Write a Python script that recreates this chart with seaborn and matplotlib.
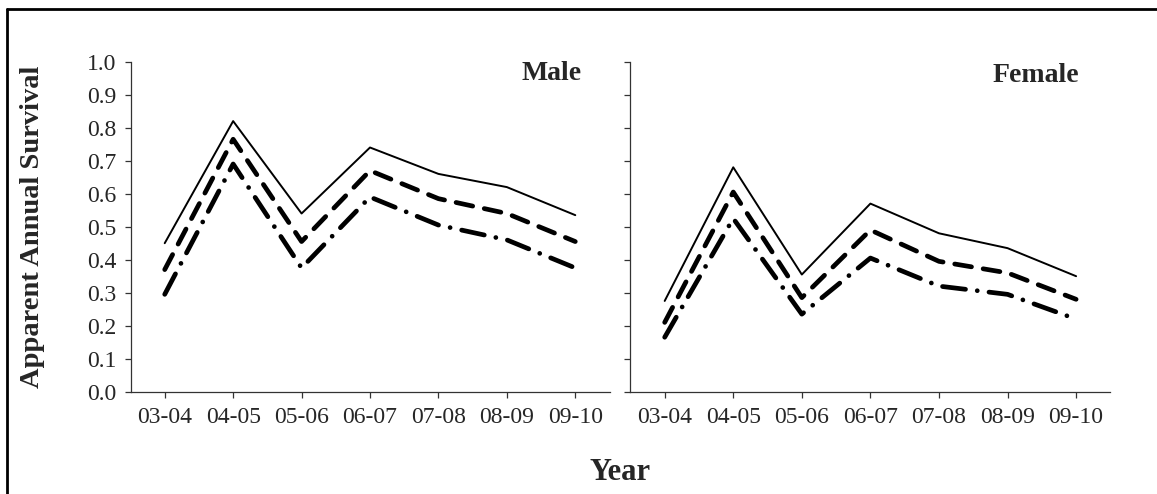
import matplotlib
matplotlib.use("Agg")
import matplotlib.pyplot as plt
from matplotlib.lines import Line2D
import seaborn as sns

# data
years = ["03-04", "04-05", "05-06", "06-07", "07-08", "08-09", "09-10"]

male_upper = [0.45, 0.82, 0.54, 0.74, 0.66, 0.62, 0.535]
male_mid = [0.37, 0.765, 0.455, 0.67, 0.585, 0.54, 0.455]
male_lower = [0.295, 0.69, 0.375, 0.59, 0.505, 0.46, 0.375]

female_upper = [0.275, 0.68, 0.355, 0.57, 0.48, 0.435, 0.35]
female_mid = [0.21, 0.605, 0.285, 0.49, 0.395, 0.36, 0.28]
female_lower = [0.165, 0.525, 0.235, 0.405, 0.32, 0.295, 0.22]

yticks = [0.0, 0.1, 0.2, 0.3, 0.4, 0.5, 0.6, 0.7, 0.8, 0.9, 1.0]

sns.set_style("ticks")
plt.rcParams["font.family"] = ["Liberation Serif", "DejaVu Serif"]

W, H = 1157, 494
fig = plt.figure(figsize=(W / 100, H / 100), dpi=100)

ax_m = fig.add_axes([130.5 / W, 1 - 391.7 / H, 479 / W, 330 / H])
ax_f = fig.add_axes([630.4 / W, 1 - 391.7 / H, 480 / W, 330 / H])


def draw_panel(ax, upper, mid, lower, label, lx, ly):
    sns.lineplot(x=years, y=upper, ax=ax, color="black", lw=1.4, sort=False)
    sns.lineplot(x=years, y=mid, ax=ax, color="black", lw=3.4, sort=False,
                 linestyle=(0, (3.6, 2.5)), dash_capstyle="round")
    sns.lineplot(x=years, y=lower, ax=ax, color="black", lw=3.4, sort=False,
                 linestyle=(0, (4.9, 2.5, 0.01, 2.5)), dash_capstyle="round")
    ax.set_xlim(-0.5, 6.5)
    ax.set_ylim(0, 1.0)
    ax.set_yticks(yticks)
    ax.set_xlabel("")
    ax.set_ylabel("")
    sns.despine(ax=ax)
    for sp in ax.spines.values():
        sp.set_linewidth(0.9)
        sp.set_color("#333333")
    ax.tick_params(axis="x", length=4, width=0.9, pad=7, labelsize=17, color="#333333")
    ax.tick_params(axis="y", length=4, width=0.9, pad=6, labelsize=17, color="#333333")
    ax.text(lx, ly, label, transform=ax.transAxes, ha="right", va="baseline",
            fontsize=20, fontweight="bold")


draw_panel(ax_m, male_upper, male_mid, male_lower, "Male", 0.942, 0.944)
draw_panel(ax_f, female_upper, female_mid, female_lower, "Female", 0.934, 0.938)

ax_m.set_yticklabels([f"{v:.1f}" for v in yticks])
ax_f.set_yticklabels([])

fig.text(32.5 / W, 1 - 226.7 / H, "Apparent Annual Survival", rotation=90,
         ha="center", va="center", fontsize=20.5, fontweight="bold")
fig.text(620 / W, 1 - 472 / H, "Year", ha="center", va="center",
         fontsize=22, fontweight="bold")

# outer frame (only left and top edges fall inside the image)
fig.add_artist(Line2D([7 / W, 7 / W], [-0.1, 1 - 9 / H], transform=fig.transFigure,
                      color="black", lw=2))
fig.add_artist(Line2D([7 / W, 1.1], [1 - 9 / H, 1 - 9 / H], transform=fig.transFigure,
                      color="black", lw=2))

fig.savefig("out.png", dpi=100)
